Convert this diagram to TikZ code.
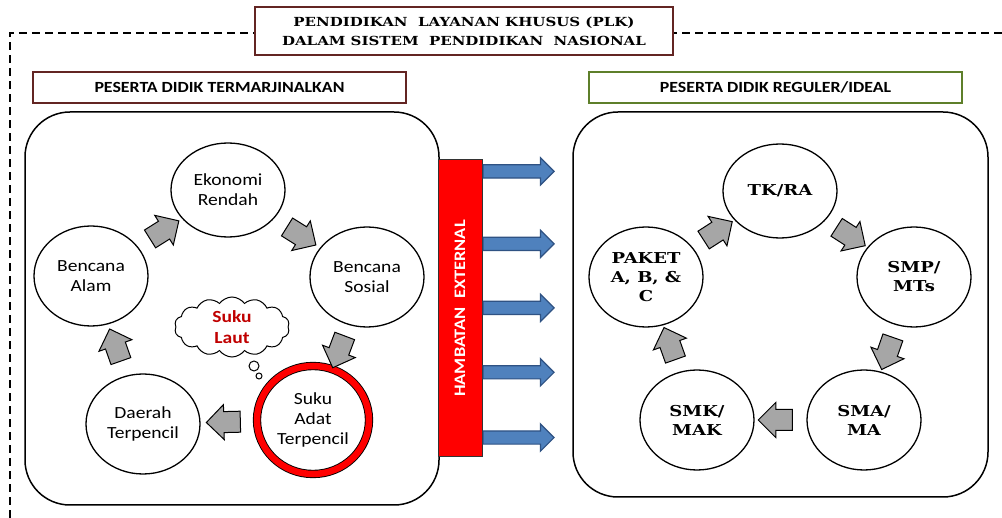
\documentclass[tikz,border=0pt]{standalone}
\usepackage{fontspec}
\newfontfamily\calibri{Carlito}[FakeStretch=1.15]
\newfontfamily\cambria{DejaVu Serif}[FakeStretch=1.2]
\usetikzlibrary{shapes.geometric,shapes.symbols,shapes.arrows,calc}
\definecolor{plkbrown}{HTML}{632523}
\definecolor{plkgreen}{HTML}{5E7F2A}
\definecolor{plkblue}{HTML}{4F81BD}
\definecolor{plkblueline}{HTML}{2F5283}
\definecolor{plkgray}{HTML}{A6A6A6}
\definecolor{plkred}{HTML}{FF0000}
\definecolor{plkdarkred}{HTML}{C00000}
\tikzset{
  headbox/.style={draw,line width=1.8pt,fill=white,inner sep=0pt,font=\calibri\bfseries\fontsize{15.5}{18}\selectfont},
  groupbox/.style={draw=black,line width=1.5pt,rounded corners=45pt},
  circ/.style={ellipse,draw=black,line width=1.3pt,fill=white,minimum width=114pt,minimum height=100pt,inner sep=0pt,align=center,font=\calibri\fontsize{17}{20}\selectfont},
  rcirc/.style={circ,font=\cambria\bfseries\fontsize{15}{19}\selectfont},
  grayarrow/.style={single arrow,fill=plkgray,draw=black,line width=1pt,minimum height=34pt,inner xsep=0pt,inner ysep=10pt,single arrow head extend=7pt},
  bluearrow/.style={single arrow,fill=plkblue,draw=plkblueline,line width=1.2pt,minimum height=71pt,inner xsep=0pt,inner ysep=6pt,single arrow head extend=7pt}
}
\begin{document}
\begin{tikzpicture}[x=1pt,y=-1pt]
\useasboundingbox (0,0) rectangle (1002,518);
\fill[white] (0,0) rectangle (1002,518);
% Drawing frame and headers
\draw[line width=1.2pt,dash pattern=on 8pt off 5pt] (10,518) -- (10,33) -- (1002,33);
\node[headbox,draw=plkbrown,minimum width=418pt,minimum height=48pt,align=center,font=\cambria\bfseries\fontsize{12.5}{19}\selectfont] (title) at (464,31) {PENDIDIKAN\ \ LAYANAN KHUSUS (PLK)\\DALAM SISTEM\ \ PENDIDIKAN\ \ NASIONAL};
\node[headbox,draw=plkbrown,minimum width=373pt,minimum height=31pt] (lefthead) at (219.5,87.5) {PESERTA DIDIK TERMARJINALKAN};
\node[headbox,draw=plkgreen,minimum width=373pt,minimum height=31pt] (righthead) at (775.5,87.5) {PESERTA DIDIK REGULER/IDEAL};
% Done with headers; drawing groups
\draw[groupbox] (25,112) rectangle (439,505);
\draw[groupbox] (573,112) rectangle (988,497);
% Left group: marginalised learners
\node[circ,minimum height=94pt] (ekonomi) at (228,190) {Ekonomi\\Rendah};
\node[circ] (alam) at (91,276) {Bencana\\Alam};
\node[circ] (sosial) at (367,277) {Bencana\\Sosial};
\node[circ] (daerah) at (143,424) {Daerah\\Terpencil};
\node[circ,line width=0.9pt,double=plkred,double distance=6.5pt,minimum width=112pt,minimum height=108pt] (adat) at (313,420) {Suku\\Adat\\Terpencil};
\node[cloud,cloud puffs=14,cloud puff arc=110,aspect=2,draw,line width=1pt,fill=white,minimum width=115pt,minimum height=60pt,inner sep=0pt,align=center,text=plkdarkred,font=\calibri\bfseries\fontsize{17}{21}\selectfont] (laut) at (232,327) {Suku\\Laut};
\node[circle,draw,line width=1pt,fill=white,minimum size=10pt,inner sep=0pt] (bubblea) at (254,366) {};
\node[circle,draw,line width=1pt,fill=white,minimum size=6pt,inner sep=0pt] (bubbleb) at (259,376) {};
\path (alam) -- (ekonomi) node[midway,sloped,allow upside down,grayarrow] (la) {};
\path (ekonomi) -- (sosial) node[midway,sloped,allow upside down,grayarrow] (lb) {};
\path (sosial) -- (adat) node[midway,sloped,allow upside down,grayarrow] (lc) {};
\path (adat) -- (daerah) node[midway,sloped,allow upside down,grayarrow] (ld) {};
\path (daerah) -- (alam) node[midway,sloped,allow upside down,grayarrow] (le) {};
% Right group: regular learners
\node[rcirc,minimum height=94pt] (tk) at (780,191) {TK/RA};
\node[rcirc] (smp) at (914,277) {SMP/\\MTs};
\node[rcirc] (sma) at (864,420) {SMA/\\MA};
\node[rcirc] (smk) at (697,420) {SMK/\\MAK};
\node[rcirc] (paket) at (646,277) {PAKET\\A, B, \&\\C};
\path (paket) -- (tk) node[midway,sloped,allow upside down,grayarrow] (ra) {};
\path (tk) -- (smp) node[midway,sloped,allow upside down,grayarrow] (rb) {};
\path (smp) -- (sma) node[midway,sloped,allow upside down,grayarrow] (rc) {};
\path (sma) -- (smk) node[midway,sloped,allow upside down,grayarrow] (rd) {};
\path (smk) -- (paket) node[midway,sloped,allow upside down,grayarrow] (re) {};
% Done with groups; drawing external barrier
\node[rectangle,fill=plkred,draw=black!80,line width=1pt,minimum width=44pt,minimum height=297pt] (bar) at (460,308.5) {};
\node[rotate=90,text=white,font=\calibri\bfseries\fontsize{16}{18}\selectfont] (barlabel) at (bar.center) {HAMBATAN\ \ EXTERNAL};
\foreach \k [count=\i] in {0.04,0.283,0.498,0.714,0.933}
  \node[bluearrow,anchor=tail] (push\i) at ($(bar.north east)!\k!(bar.south east)$) {};
% Done with barrier
\end{tikzpicture}
\end{document}
